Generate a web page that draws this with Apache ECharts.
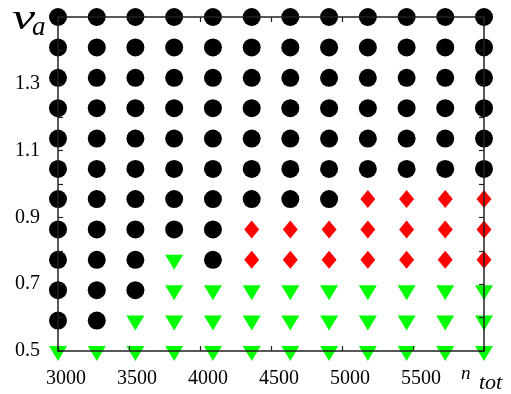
<!DOCTYPE html>
<html>
<head>
<meta charset="utf-8">
<style>
html,body{margin:0;padding:0;background:#fff;}
#chart{width:511px;height:394px;}
</style>
<script src="https://cdn.jsdelivr.net/npm/echarts@6/dist/echarts.min.js"></script>
</head>
<body>
<div id="chart"></div>
<script>
// n_tot values (columns)
const nTot = [3000, 3273, 3545, 3818, 4091, 4364, 4636, 4909, 5182, 5455, 5727, 6000];
// v_a values (rows, bottom to top)
const vA = [0.5, 0.591, 0.682, 0.773, 0.864, 0.955, 1.045, 1.136, 1.227, 1.318, 1.409, 1.5];
// phase per row (B = black circle, R = red diamond, G = green triangle), one char per n_tot
const phaseRows = [
  "GGGGGGGGGGGG",
  "BBGGGGGGGGGG",
  "BBBGGGGGGGGG",
  "BBBGBRRRRRRR",
  "BBBBBRRRRRRR",
  "BBBBBBBBRRRR",
  "BBBBBBBBBBBB",
  "BBBBBBBBBBBB",
  "BBBBBBBBBBBB",
  "BBBBBBBBBBBB",
  "BBBBBBBBBBBB",
  "BBBBBBBBBBBB"
];
const xTicks = [3000, 3500, 4000, 4500, 5000, 5500];
const yTickLabels = [0.5, 0.7, 0.9, 1.1, 1.3];

function pts(code) {
  const out = [];
  phaseRows.forEach((row, i) => {
    for (let j = 0; j < row.length; j++) {
      if (row[j] === code) out.push([nTot[j], vA[i]]);
    }
  });
  return out;
}

const FONT = 'Liberation Serif';
const axisLine = {show: true, lineStyle: {color: '#222', width: 1.5}};
const tickStyle = {show: true, inside: true, length: 5, lineStyle: {color: '#222', width: 1.2}};

const chart = echarts.init(document.getElementById('chart'), null, {renderer: 'canvas'});
chart.setOption({
  animation: false,
  backgroundColor: '#fff',
  grid: {left: 58, right: 27, top: 17, bottom: 43},
  xAxis: [{
    type: 'value', min: 3000, max: 6000, interval: 500, position: 'bottom', z: 5,
    axisLine: axisLine, axisTick: tickStyle, splitLine: {show: false},
    axisLabel: {
      margin: 18, fontFamily: FONT, fontSize: 20, color: '#000', padding: [0, 0, 0, 16],
      formatter: v => xTicks.indexOf(Math.round(v)) >= 0 ? String(Math.round(v)) : ''
    }
  }, {
    type: 'value', min: 3000, max: 6000, interval: 500, position: 'top', z: 5,
    axisLine: axisLine, axisTick: tickStyle, splitLine: {show: false}, axisLabel: {show: false}
  }],
  yAxis: [{
    type: 'value', min: 0.5, max: 1.5, interval: 0.1, position: 'left', z: 5,
    axisLine: axisLine, axisTick: tickStyle, splitLine: {show: false},
    axisLabel: {
      margin: 18, fontFamily: FONT, fontSize: 20, color: '#000',
      formatter: v => {
        const r = Math.round(v * 10) / 10;
        return yTickLabels.some(t => Math.abs(t - r) < 1e-6) ? r.toFixed(1) : '';
      }
    }
  }, {
    type: 'value', min: 0.5, max: 1.5, interval: 0.1, position: 'right', z: 5,
    axisLine: axisLine, axisTick: tickStyle, splitLine: {show: false}, axisLabel: {show: false}
  }],
  series: [{
    type: 'scatter', clip: false, data: pts('B'),
    symbol: 'circle', symbolSize: 18, itemStyle: {color: '#000', opacity: 1}
  }, {
    type: 'scatter', clip: false, data: pts('R'),
    symbol: 'diamond', symbolSize: [15, 18], itemStyle: {color: '#ff0000', opacity: 1}
  }, {
    type: 'scatter', clip: false, data: pts('G'),
    symbol: 'path://M0,0 L20,0 L10,17 Z', symbolSize: [18, 15], symbolOffset: [0, 2.5],
    symbolKeepAspect: false, itemStyle: {color: '#00ff00', opacity: 1}
  }],
  graphic: [
    {type: 'text', left: 12, top: 2, z: 10,
      style: {text: 'v', font: 'italic 36px "Liberation Serif"', fill: '#000'}, scaleX: 1.45},
    {type: 'text', left: 32, top: 14, z: 10,
      style: {text: 'a', font: 'italic 27px "Liberation Serif"', fill: '#000'}},
    {type: 'text', left: 461, top: 364, z: 10,
      style: {text: 'n', font: 'italic 19px "Liberation Serif"', fill: '#000'}},
    {type: 'text', left: 479, top: 372, z: 10,
      style: {text: 'tot', font: 'italic 22px "Liberation Serif"', fill: '#000'}}
  ]
});
</script>
</body>
</html>
